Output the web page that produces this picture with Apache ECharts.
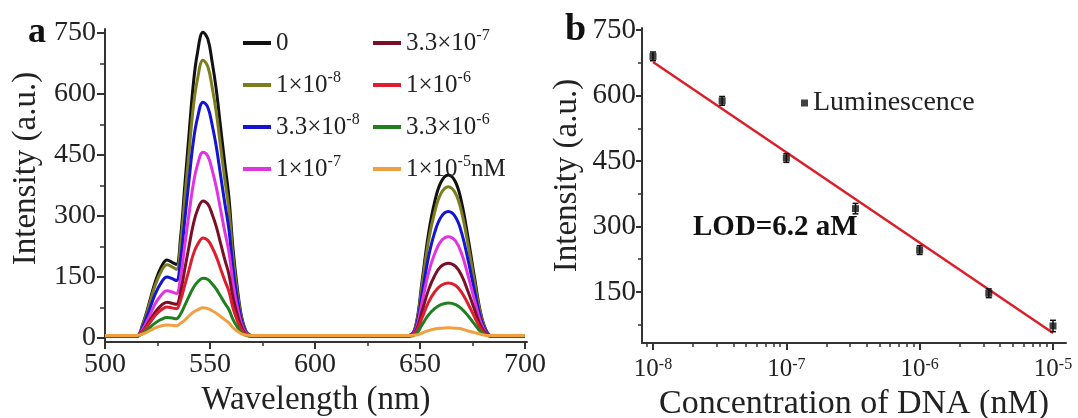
<!DOCTYPE html>
<html>
<head>
<meta charset="utf-8">
<script src="https://cdn.jsdelivr.net/npm/echarts@6/dist/echarts.min.js"></script>
<style>
html, body { margin: 0; padding: 0; background: #fff; }
#main { width: 1078px; height: 418px; }
</style>
</head>
<body>
<div id="main"></div>
<script>
// ---- panel a : luminescence spectra ----
var wavelength = [500, 505, 510, 515, 518, 521, 524, 527, 529.5, 532, 534, 536, 538, 540, 542, 544, 546.7, 549, 551, 553,
    555, 557, 559, 561, 563, 565, 567, 569, 572, 580, 600, 620, 640, 645, 648, 651, 654, 657, 660, 663.5,
    667, 670, 673, 676, 679, 682, 685, 690, 695, 700];

var seriesNames = ['0', '1×10^-8', '3.3×10^-8', '1×10^-7', '3.3×10^-7', '1×10^-6', '3.3×10^-6', '1×10^-5nM'];
var seriesColors = ['#111111', '#7d7d1e', '#1414d2', '#e034e0', '#7a1028', '#dc1e2e', '#1f801f', '#f0a040'];

var int0 = [4, 4, 4, 4, 34, 85, 139, 177, 192, 186, 181, 248, 375, 500, 621, 700, 752, 735, 680, 611,
    521, 432, 347, 218, 124, 53, 18, 7, 4, 4, 4, 4, 4, 6, 30, 139, 254, 334, 383, 401,
    383, 330, 244, 149, 60, 14, 4, 4, 4, 4];
var int1e8 = [4, 4, 4, 4, 32, 80, 131, 166, 180, 175, 169, 230, 343, 455, 565, 635, 683, 667, 618, 555,
    473, 392, 316, 198, 113, 49, 17, 7, 4, 4, 4, 4, 4, 6, 28, 129, 236, 309, 355, 372,
    355, 306, 227, 138, 56, 13, 4, 4, 4, 4];
var int33e8 = [4, 4, 4, 4, 27, 67, 109, 138, 150, 146, 141, 193, 290, 387, 480, 540, 580, 567, 525, 471,
    402, 333, 268, 169, 96, 42, 15, 6, 4, 4, 4, 4, 4, 6, 24, 108, 197, 259, 297, 311,
    297, 256, 190, 116, 47, 12, 4, 4, 4, 4];
var int1e7 = [4, 4, 4, 4, 22, 52, 85, 107, 116, 113, 109, 150, 228, 304, 377, 425, 457, 447, 414, 371,
    317, 263, 212, 134, 76, 34, 13, 6, 4, 4, 4, 4, 4, 5, 20, 87, 158, 207, 238, 249,
    238, 205, 152, 93, 38, 10, 4, 4, 4, 4];
var int33e7 = [4, 4, 4, 4, 17, 40, 64, 81, 88, 85, 83, 113, 169, 225, 278, 314, 337, 329, 305, 274,
    234, 194, 157, 99, 57, 26, 10, 5, 4, 4, 4, 4, 4, 5, 16, 65, 117, 153, 176, 184,
    176, 152, 113, 70, 29, 9, 4, 4, 4, 4];
var int1e6 = [4, 4, 4, 4, 16, 35, 56, 70, 76, 74, 72, 93, 130, 167, 205, 229, 246, 240, 223, 200,
    171, 142, 115, 73, 43, 20, 9, 5, 4, 4, 4, 4, 4, 5, 13, 49, 87, 113, 129, 135,
    129, 111, 83, 52, 22, 7, 4, 4, 4, 4];
var int33e6 = [4, 4, 4, 4, 11, 24, 37, 46, 50, 49, 47, 59, 80, 102, 123, 137, 147, 144, 133, 120,
    103, 86, 70, 45, 27, 13, 7, 4, 4, 4, 4, 4, 4, 4, 9, 32, 56, 72, 82, 86,
    82, 71, 54, 34, 15, 6, 4, 4, 4, 4];
var int1e5 = [6, 6, 6, 6, 10, 17, 25, 30, 32, 31, 30, 36, 44, 54, 63, 69, 74, 72, 67, 61,
    53, 45, 37, 25, 17, 10, 7, 6, 6, 6, 6, 6, 6, 6, 7, 12, 18, 22, 24, 25,
    24, 22, 17, 13, 9, 6, 6, 6, 6, 6];
var spectra = [int0, int1e8, int33e8, int1e7, int33e7, int1e6, int33e6, int1e5];

var aXTicks = [500, 550, 600, 650, 700];
var aXMinor = [525, 575, 625, 675];
var aYTicks = [0, 150, 300, 450, 600, 750];
var aYMinor = [75, 225, 375, 525, 675];

// ---- panel b : calibration ----
var conc = [1e-8, 3.3e-8, 1e-7, 3.3e-7, 1e-6, 3.3e-6, 1e-5];
var lum = [690, 588, 457, 341, 246, 147, 72];
var lumErr = [10, 10, 10, 12, 10, 10, 13];
var fitConc = [1e-8, 1e-5];
var fitLum = [677, 56];

var bXTicks = [1e-8, 1e-7, 1e-6, 1e-5];
var bXMinor = [9e-9, 2e-8, 3e-8, 4e-8, 5e-8, 6e-8, 7e-8, 8e-8, 9e-8,
    2e-7, 3e-7, 4e-7, 5e-7, 6e-7, 7e-7, 8e-7, 9e-7,
    2e-6, 3e-6, 4e-6, 5e-6, 6e-6, 7e-6, 8e-6, 9e-6];
var bYTicks = [150, 300, 450, 600, 750];
var bYMinor = [75, 225, 375, 525, 675];

var serif = '"Liberation Serif", "Times New Roman", serif';
var ink = '#222';

function pairs(xs, ys) {
    return xs.map(function (x, i) { return [x, ys[i]]; });
}

function supName(name) {
    return name.replace(/\^(-?\d+)/, '{s|$1}');
}

function mainAxis(opt) {
    var base = {
        axisLine: { show: true, onZero: false, lineStyle: { color: '#333', width: 2 } },
        axisTick: { show: true, inside: false, length: 7, lineStyle: { color: '#333', width: 2 } },
        axisLabel: { color: ink, fontFamily: serif, fontSize: 28, margin: 9 },
        splitLine: { show: false },
        nameTextStyle: { color: ink, fontFamily: serif, fontSize: 33 }
    };
    return echarts.util.merge(base, opt, true);
}

function minorAxis(opt) {
    var base = {
        axisLine: { show: false, onZero: false },
        axisTick: { show: true, inside: false, length: 4, lineStyle: { color: '#333', width: 1.5 } },
        axisLabel: { show: false },
        splitLine: { show: false }
    };
    return echarts.util.merge(base, opt, true);
}

var chart = echarts.init(document.getElementById('main'));

var series = [];
spectra.forEach(function (vals, i) {
    series.push({
        name: seriesNames[i],
        type: 'line',
        xAxisIndex: 0,
        yAxisIndex: 0,
        data: pairs(wavelength, vals),
        smooth: 0.4,
        symbol: 'none',
        lineStyle: { color: seriesColors[i], width: 3 },
        itemStyle: { color: seriesColors[i] },
        z: 2 + i
    });
});

series.push({
    name: 'fit',
    type: 'line',
    xAxisIndex: 2,
    yAxisIndex: 2,
    data: pairs(fitConc, fitLum),
    symbol: 'none',
    lineStyle: { color: '#dc1e28', width: 2.5 },
    z: 3
});
series.push({
    name: 'errors',
    type: 'custom',
    xAxisIndex: 2,
    yAxisIndex: 2,
    data: conc.map(function (c, i) { return [c, lum[i] - lumErr[i], lum[i] + lumErr[i]]; }),
    encode: { x: 0, y: [1, 2] },
    renderItem: function (params, api) {
        var top = api.coord([api.value(0), api.value(2)]);
        var bot = api.coord([api.value(0), api.value(1)]);
        var st = { stroke: '#111', lineWidth: 1.5 };
        return {
            type: 'group',
            children: [
                { type: 'line', shape: { x1: top[0], y1: top[1], x2: bot[0], y2: bot[1] }, style: st },
                { type: 'line', shape: { x1: top[0] - 3, y1: top[1], x2: top[0] + 3, y2: top[1] }, style: st },
                { type: 'line', shape: { x1: bot[0] - 3, y1: bot[1], x2: bot[0] + 3, y2: bot[1] }, style: st }
            ]
        };
    },
    z: 4
});
series.push({
    name: 'Luminescence',
    type: 'scatter',
    xAxisIndex: 2,
    yAxisIndex: 2,
    data: pairs(conc, lum),
    symbol: 'rect',
    symbolSize: 7,
    itemStyle: { color: '#111' },
    z: 5
});

var legendText = {
    color: ink, fontFamily: serif, fontSize: 25, lineHeight: 30,
    rich: { s: { color: ink, fontFamily: serif, fontSize: 16, lineHeight: 16, verticalAlign: 'top' } }
};

var option = {
    animation: false,
    backgroundColor: '#fff',
    grid: [
        { left: 105, top: 29, width: 422, height: 313, outerBoundsMode: 'none', containLabel: false },
        { left: 642, top: 28, width: 424, height: 315, outerBoundsMode: 'none', containLabel: false }
    ],
    xAxis: [
        mainAxis({
            type: 'value', gridIndex: 0, position: 'bottom', min: 500, max: 701,
            axisTick: { customValues: aXTicks },
            axisLabel: { customValues: aXTicks },
            name: 'Wavelength (nm)', nameLocation: 'middle', nameGap: 37
        }),
        minorAxis({
            type: 'value', gridIndex: 0, position: 'bottom', min: 500, max: 701,
            axisTick: { customValues: aXMinor }
        }),
        mainAxis({
            type: 'log', gridIndex: 1, position: 'bottom',
            min: Math.pow(10, -8.0825), max: Math.pow(10, -4.9025),
            axisTick: { customValues: bXTicks },
            axisLabel: {
                customValues: bXTicks, fontSize: 25, margin: 14,
                formatter: function (v) { return '10{s|' + Math.round(Math.log10(v)) + '}'; },
                rich: { s: { color: ink, fontFamily: serif, fontSize: 16, lineHeight: 16, verticalAlign: 'top' } }
            },
            name: 'Concentration of DNA (nM)', nameLocation: 'middle', nameGap: 41,
            nameTextStyle: { fontSize: 34 }
        }),
        minorAxis({
            type: 'log', gridIndex: 1, position: 'bottom',
            min: Math.pow(10, -8.0825), max: Math.pow(10, -4.9025),
            axisTick: { customValues: bXMinor }
        })
    ],
    yAxis: [
        mainAxis({
            type: 'value', gridIndex: 0, position: 'left', min: -10, max: 760,
            axisTick: { customValues: aYTicks, length: 8 },
            axisLabel: { customValues: aYTicks },
            name: 'Intensity (a.u.)', nameLocation: 'middle', nameGap: 62,
            nameTextStyle: { padding: [0, 0, 0, 34] }
        }),
        minorAxis({
            type: 'value', gridIndex: 0, position: 'left', min: -10, max: 760,
            axisTick: { customValues: aYMinor, length: 5 }
        }),
        mainAxis({
            type: 'value', gridIndex: 1, position: 'left', min: 33, max: 755,
            axisTick: { customValues: bYTicks, length: 6 },
            axisLabel: { customValues: bYTicks, fontSize: 29, margin: 6 },
            name: 'Intensity (a.u.)', nameLocation: 'middle', nameGap: 58,
            nameTextStyle: { padding: [0, 0, 0, 20] }
        }),
        minorAxis({
            type: 'value', gridIndex: 1, position: 'left', min: 33, max: 755,
            axisTick: { customValues: bYMinor, length: 4 }
        })
    ],
    legend: [
        {
            data: seriesNames.slice(0, 4), orient: 'vertical', left: 238, top: 23, itemGap: 12,
            icon: 'rect', itemWidth: 28, itemHeight: 4, selectedMode: false,
            formatter: supName, textStyle: legendText
        },
        {
            data: seriesNames.slice(4), orient: 'vertical', left: 368, top: 23, itemGap: 12,
            icon: 'rect', itemWidth: 28, itemHeight: 4, selectedMode: false,
            formatter: supName, textStyle: legendText
        },
        {
            data: ['Luminescence'], left: 796, top: 84,
            icon: 'rect', itemWidth: 7, itemHeight: 7, selectedMode: false,
            textStyle: { color: ink, fontFamily: serif, fontSize: 28 }
        }
    ],
    graphic: [
        { type: 'text', left: 28, top: 15, style: { text: 'a', font: 'bold 36px ' + serif, fill: '#111' } },
        { type: 'text', left: 565, top: 11, style: { text: 'b', font: 'bold 38px ' + serif, fill: '#111' } },
        { type: 'text', left: 693, top: 213, style: { text: 'LOD=6.2 aM', font: 'bold 29px ' + serif, fill: '#111' } }
    ],
    series: series
};

chart.setOption(option);
window.addEventListener('resize', function () {
    chart.resize();
});
</script>
</body>
</html>
